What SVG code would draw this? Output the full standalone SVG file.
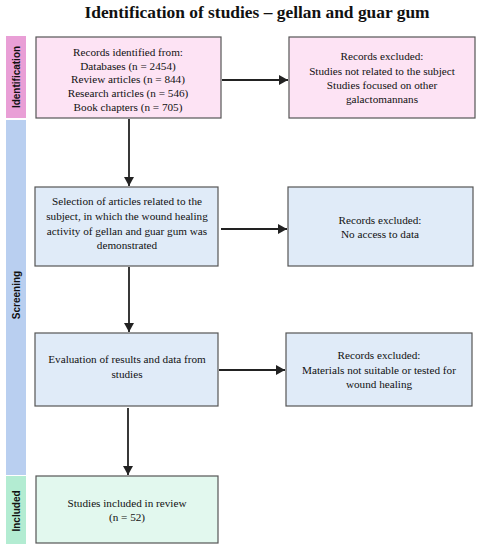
<svg xmlns="http://www.w3.org/2000/svg" width="480" height="550" viewBox="0 0 480 550">
<defs>
<marker id="ah" markerWidth="10" markerHeight="10" refX="9" refY="5" orient="auto" markerUnits="userSpaceOnUse">
<path d="M0,0 L9,5 L0,10 Z" fill="#222"/>
</marker>
<style>
.t{font-family:"Liberation Serif","Times New Roman",serif;font-size:11.2px;fill:#111;text-anchor:middle}
.side{font-family:"Liberation Sans",Arial,sans-serif;font-size:10px;font-weight:bold;fill:#111;text-anchor:middle}
.pk{fill:#fde3f4;stroke:#555;stroke-width:1.2}
.bl{fill:#e0ebf8;stroke:#555;stroke-width:1.2}
.gr{fill:#e2f8ee;stroke:#555;stroke-width:1.2}
.c{stroke:#222;stroke-width:1.8;fill:none;marker-end:url(#ah)}
</style>
</defs>
<rect width="480" height="550" fill="#fff"/>
<text x="257" y="18" style="font-family:'Liberation Serif','Times New Roman',serif;font-size:17.4px;font-weight:bold;fill:#111;text-anchor:middle">Identification of studies – gellan and guar gum</text>

<g id="phase-identification">
<rect x="6" y="36" width="20" height="82" fill="#e99fd6"/>
<text class="side" transform="translate(19.5,77) rotate(-90)">Identification</text>
</g>
<g id="phase-screening">
<rect x="6" y="120" width="20" height="355" fill="#b9cff0"/>
<text class="side" transform="translate(19.5,295) rotate(-90)">Screening</text>
</g>
<g id="phase-included">
<rect x="6" y="476" width="20" height="68" fill="#b3ecd2"/>
<text class="side" transform="translate(19.5,511) rotate(-90)">Included</text>
</g>

<g id="records-identified">
<rect class="pk" x="36" y="37" width="185" height="81"/>
<text class="t" x="128" y="56">Records identified from:</text>
<text class="t" x="128" y="70">Databases (n = 2454)</text>
<text class="t" x="128" y="83">Review articles (n = 844)</text>
<text class="t" x="128" y="97">Research articles (n = 546)</text>
<text class="t" x="128" y="111">Book chapters (n = 705)</text>
</g>
<g id="excluded-1">
<rect class="pk" x="289" y="37" width="186" height="81"/>
<text class="t" x="382" y="60">Records excluded:</text>
<text class="t" x="382" y="75">Studies not related to the subject</text>
<text class="t" x="382" y="89">Studies focused on other</text>
<text class="t" x="382" y="103">galactomannans</text>
</g>
<g id="selection">
<rect class="bl" x="35" y="187" width="183" height="79"/>
<text class="t" x="127" y="205">Selection of articles related to the</text>
<text class="t" x="127" y="220">subject, in which the wound healing</text>
<text class="t" x="127" y="235">activity of gellan and guar gum was</text>
<text class="t" x="127" y="249">demonstrated</text>
</g>
<g id="excluded-2">
<rect class="bl" x="288" y="187" width="185" height="79"/>
<text class="t" x="380" y="224">Records excluded:</text>
<text class="t" x="380" y="238">No access to data</text>
</g>
<g id="evaluation">
<rect class="bl" x="35" y="333" width="183" height="73"/>
<text class="t" x="127" y="363">Evaluation of results and data from</text>
<text class="t" x="127" y="378">studies</text>
</g>
<g id="excluded-3">
<rect class="bl" x="286" y="333" width="186" height="73"/>
<text class="t" x="379" y="359">Records excluded:</text>
<text class="t" x="379" y="374">Materials not suitable or tested for</text>
<text class="t" x="379" y="388">wound healing</text>
</g>
<g id="included">
<rect class="gr" x="36" y="476" width="182" height="67"/>
<text class="t" x="127" y="507">Studies included in review</text>
<text class="t" x="127" y="521">(n = 52)</text>
</g>

<g id="connectors">
<line class="c" x1="129" y1="119" x2="129" y2="186"/>
<line class="c" x1="222" y1="80" x2="288" y2="80"/>
<line class="c" x1="221" y1="229" x2="287" y2="229"/>
<line class="c" x1="129" y1="267" x2="129" y2="332"/>
<line class="c" x1="219" y1="370" x2="285" y2="370"/>
<line class="c" x1="128" y1="408" x2="128" y2="475"/>
</g>
</svg>
